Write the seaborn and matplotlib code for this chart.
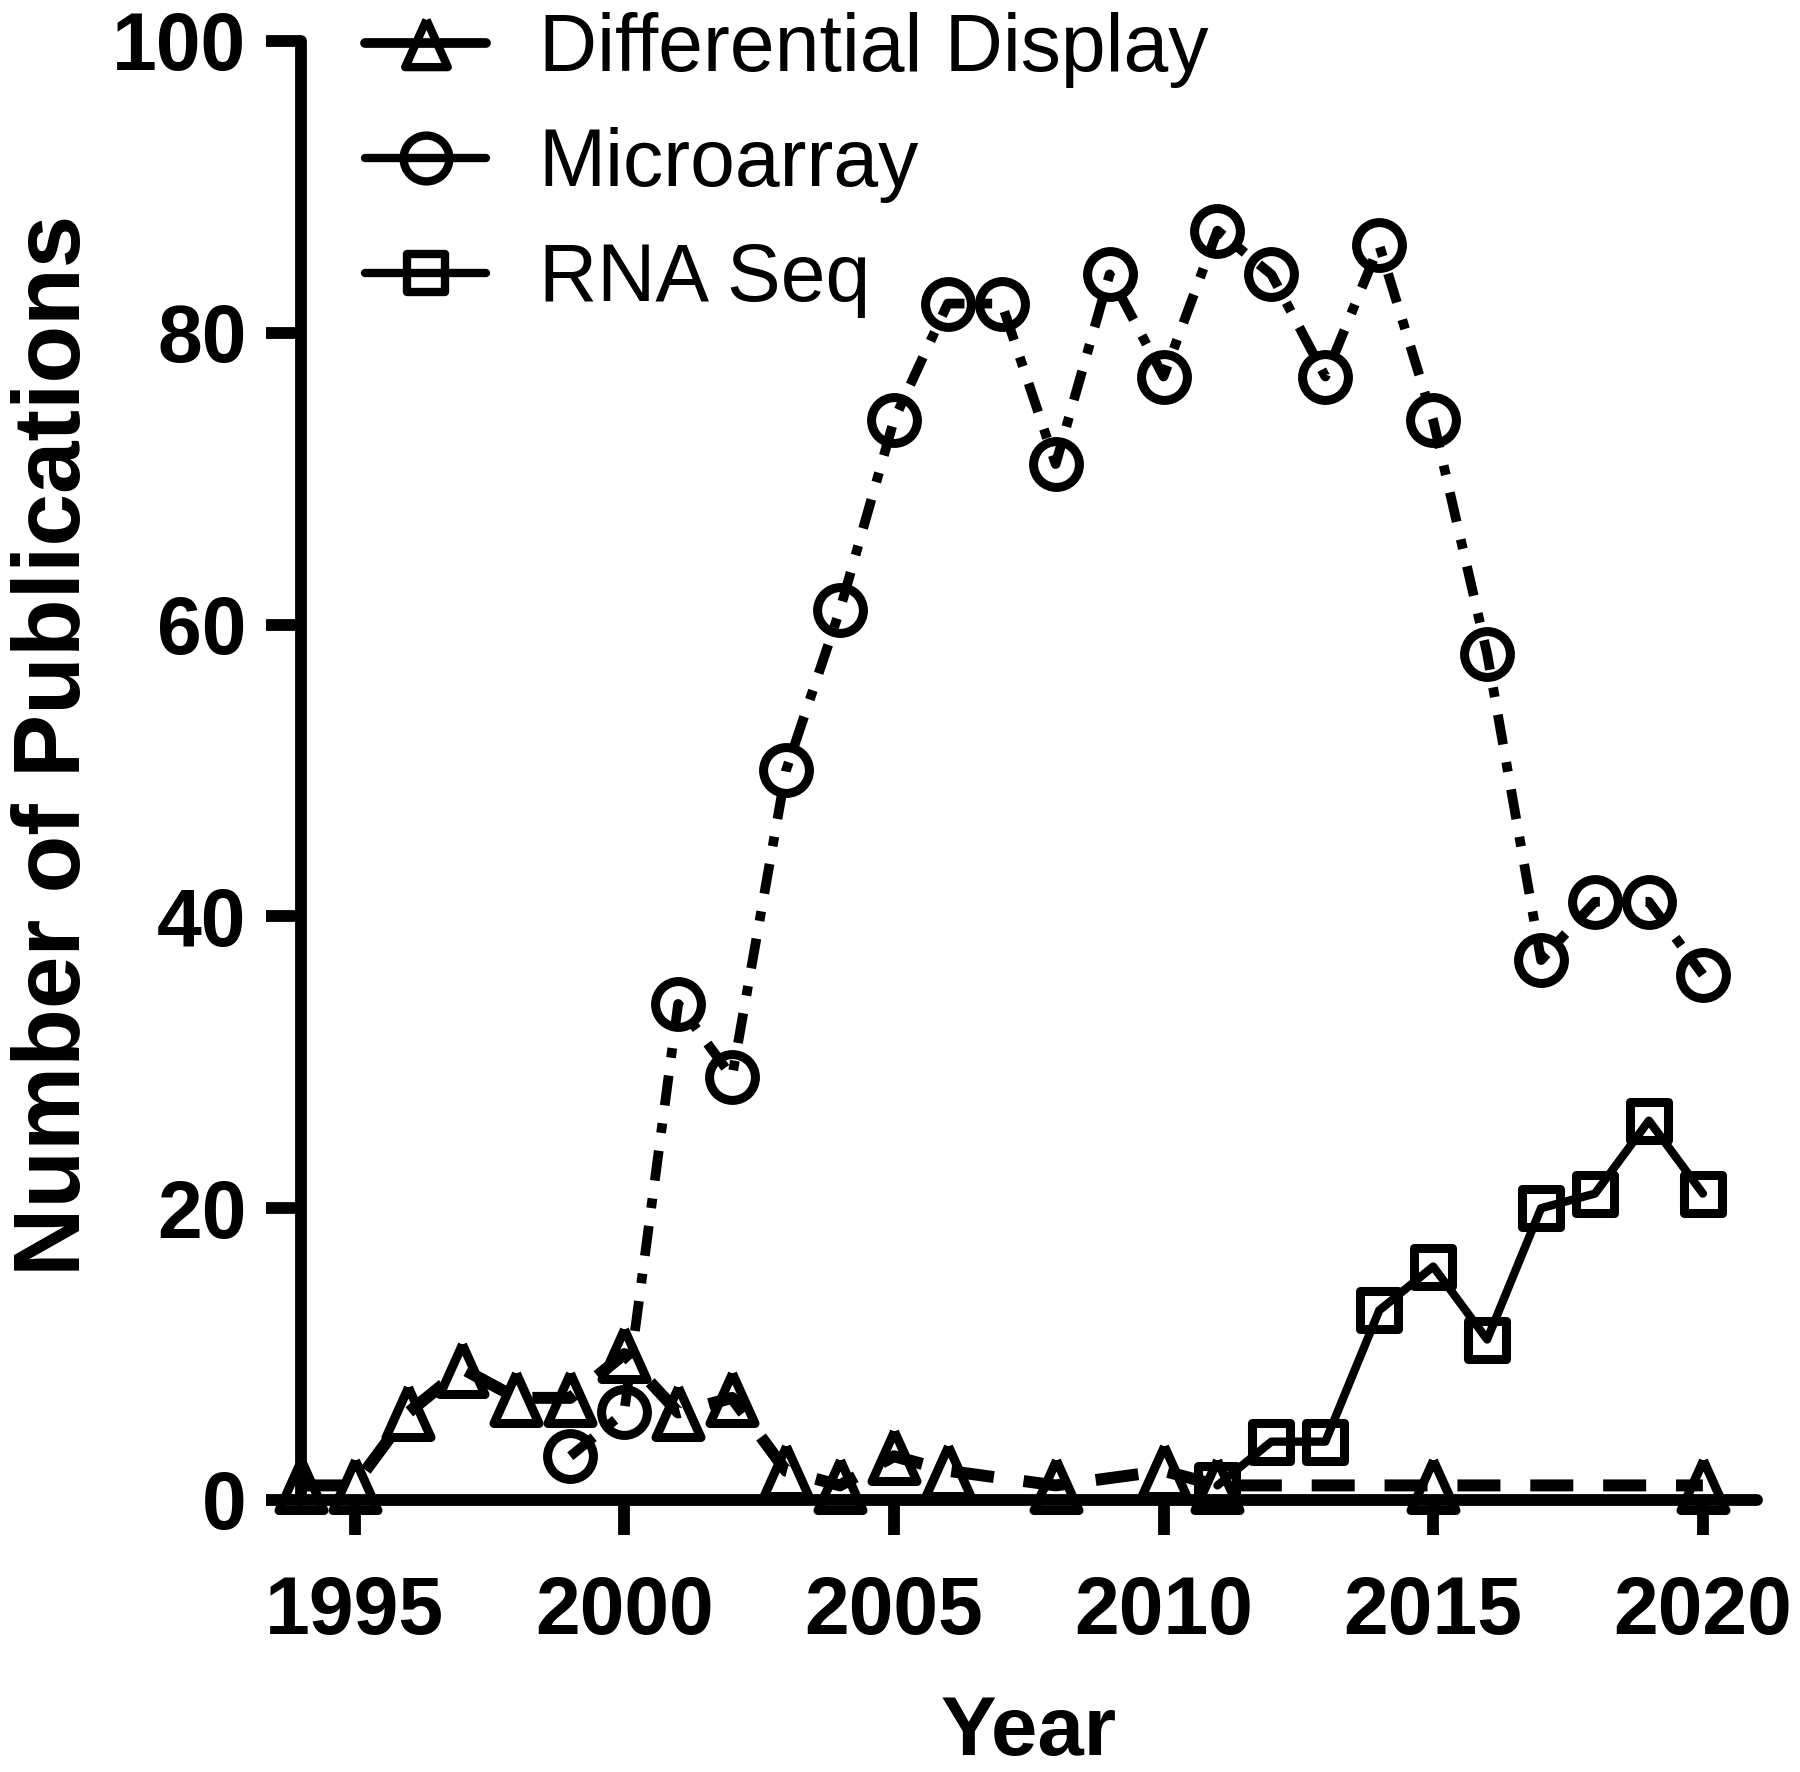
import matplotlib
matplotlib.use("Agg")
import matplotlib.pyplot as plt
from matplotlib.markers import MarkerStyle
from matplotlib.lines import Line2D
import pandas as pd
import seaborn as sns

# values
dd_years = [1994, 1995, 1996, 1997, 1998, 1999, 2000, 2001, 2002, 2003, 2004,
            2005, 2006, 2008, 2010, 2011, 2015, 2020]
dd_counts = [1, 1, 6, 9, 7, 7, 10, 6, 7, 2, 1, 3, 2, 1, 2, 1, 1, 1]

ma_years = list(range(1999, 2021))
ma_counts = [3, 6, 34, 29, 50, 61, 74, 82, 82, 71, 84, 77, 87, 84, 77, 86,
             74, 58, 37, 41, 41, 36]

rna_years = list(range(2011, 2021))
rna_counts = [1, 4, 4, 13, 16, 11, 20, 21, 26, 21]

labels = ['Differential Display', 'Microarray', 'RNA Seq']
x_ticks = [1995, 2000, 2005, 2010, 2015, 2020]
y_ticks = [0, 20, 40, 60, 80, 100]

sns.set_style("ticks")
plt.rcParams['font.family'] = ['Liberation Sans', 'DejaVu Sans']
for k in ['text.color', 'axes.labelcolor', 'xtick.color', 'ytick.color', 'axes.edgecolor']:
    plt.rcParams[k] = 'black'

fig = plt.figure(figsize=(18, 17.72), dpi=100)
ax = fig.add_axes([0.167, 0.1535, 0.809, 0.8234])

tri = MarkerStyle([(0, 1), (-0.9, -1), (0.9, -1), (0, 1)], joinstyle='round')
sq = MarkerStyle('s', joinstyle='round')

dd = pd.DataFrame({'Year': dd_years, 'Count': dd_counts})
ma = pd.DataFrame({'Year': ma_years, 'Count': ma_counts})
rna = pd.DataFrame({'Year': rna_years, 'Count': rna_counts})

common = dict(color='black', errorbar=None, markerfacecolor='none',
              markeredgecolor='black', markeredgewidth=6.5, clip_on=False)

sns.lineplot(data=dd, x='Year', y='Count', ax=ax, linewidth=8.6,
             linestyle=(0, (3.6, 2.5)), marker=tri, markersize=36, **common)
sns.lineplot(data=ma, x='Year', y='Count', ax=ax, linewidth=7,
             linestyle=(0, (3.1, 1.85, 1.0, 1.85)), marker='o', markersize=33, **common)
sns.lineplot(data=rna, x='Year', y='Count', ax=ax, linewidth=6,
             marker=sq, markersize=28, **common)

ax.set_xlim(1994, 2021)
ax.set_ylim(0, 100)
ax.set_xticks(x_ticks)
ax.set_yticks(y_ticks)

sns.despine(ax=ax)
for s in ['left', 'bottom']:
    ax.spines[s].set_linewidth(8.5)
    ax.spines[s].set_capstyle('round')

ax.tick_params(axis='both', length=25, width=8.5, labelsize=58, color='black')
ax.tick_params(axis='x', pad=29)
ax.tick_params(axis='y', pad=14)
for lab in ax.get_xticklabels() + ax.get_yticklabels():
    lab.set_fontweight('bold')

ax.set_xlabel("Year", fontsize=60, fontweight='bold')
ax.set_ylabel("Number of Publications", fontsize=68, fontweight='bold')
ax.xaxis.set_label_coords(0.5, -0.133)
ax.yaxis.set_label_coords(-0.138, 0.517)

# legend keys are drawn as short solid strokes in the original
handles = [
    Line2D([], [], color='black', lw=7, solid_capstyle='round', marker=tri, markersize=34,
           markerfacecolor='none', markeredgewidth=6),
    Line2D([], [], color='black', lw=6, solid_capstyle='round', marker='o', markersize=33,
           markerfacecolor='none', markeredgewidth=6),
    Line2D([], [], color='black', lw=6, solid_capstyle='round', marker=sq, markersize=28,
           markerfacecolor='none', markeredgewidth=6),
]
ax.legend(handles, labels, loc='upper left', bbox_to_anchor=(0.203, 0.993),
          bbox_transform=fig.transFigure, frameon=False, fontsize=58,
          handlelength=1.5, handletextpad=0.65, labelspacing=0.48,
          borderaxespad=0, borderpad=0, numpoints=1)

fig.savefig("out.png", dpi=100)
